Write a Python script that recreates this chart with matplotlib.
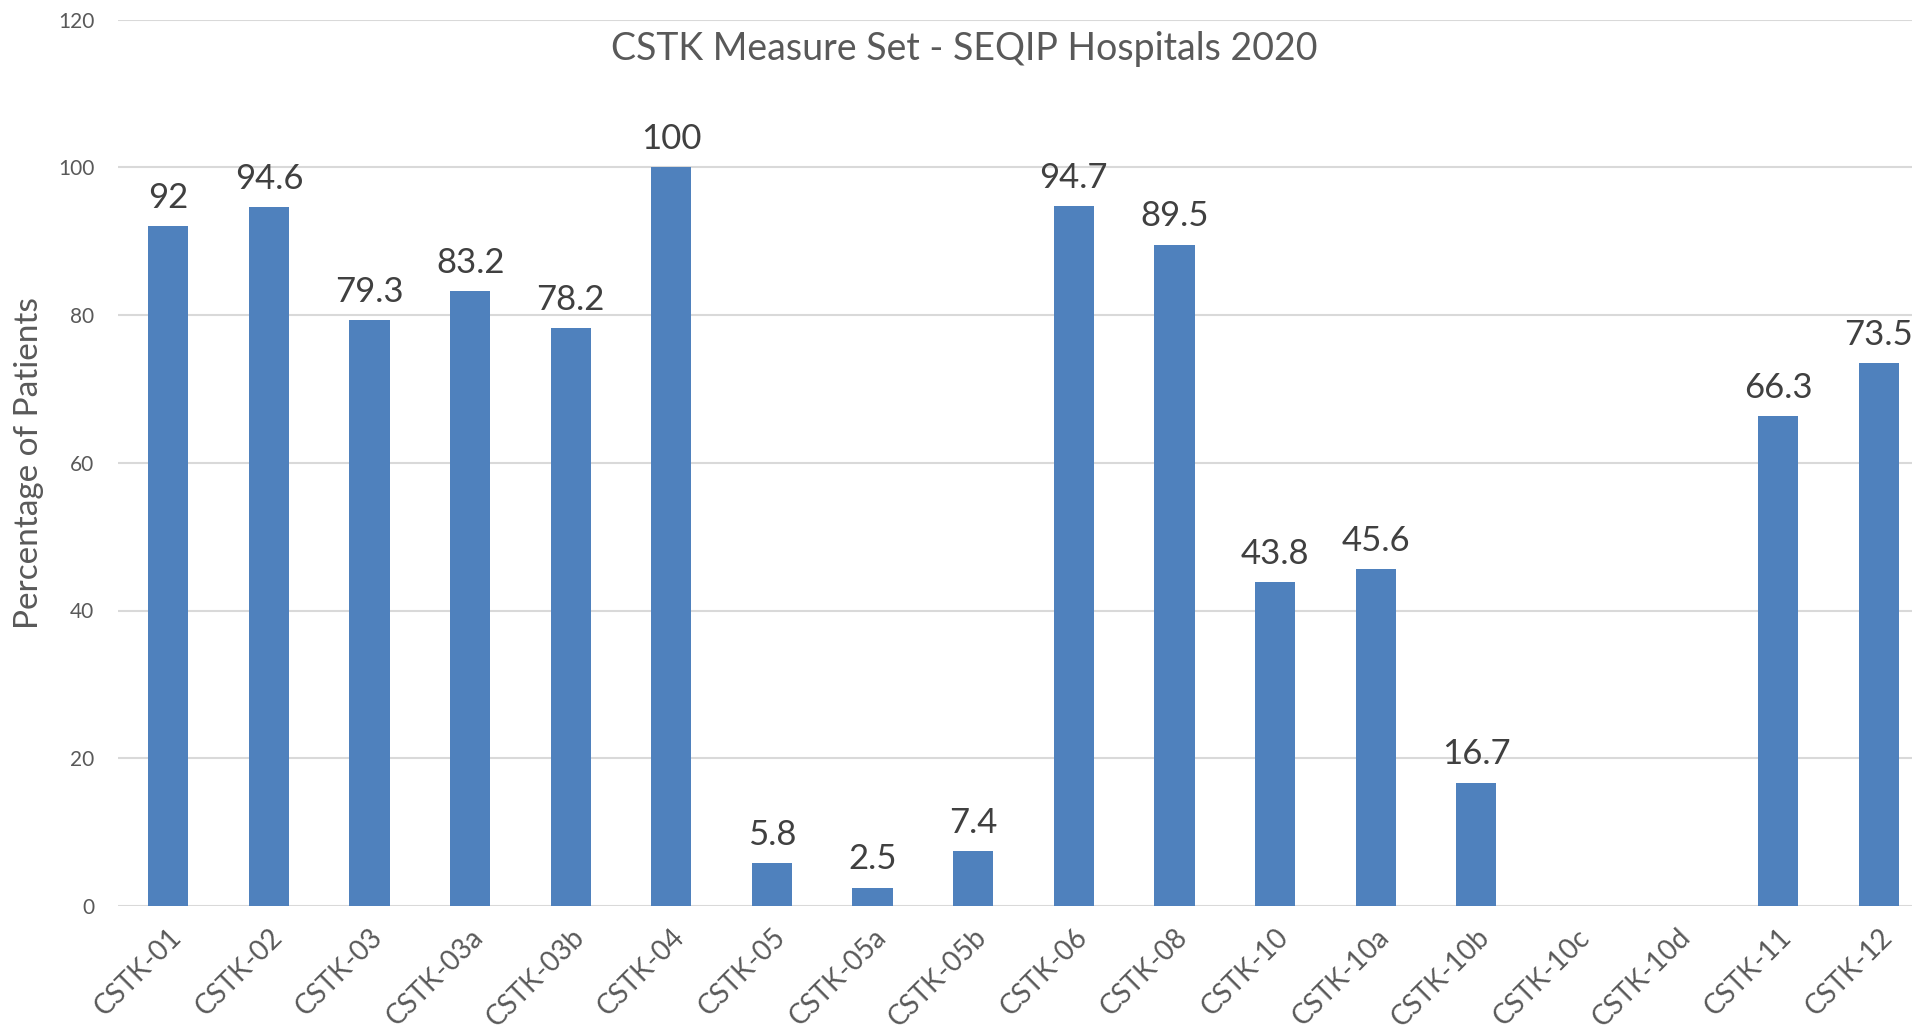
import numpy as np
import matplotlib
matplotlib.use("Agg")
from matplotlib import pyplot as plt

# chart data
measures = ["CSTK-01", "CSTK-02", "CSTK-03", "CSTK-03a", "CSTK-03b", "CSTK-04",
            "CSTK-05", "CSTK-05a", "CSTK-05b", "CSTK-06", "CSTK-08", "CSTK-10",
            "CSTK-10a", "CSTK-10b", "CSTK-10c", "CSTK-10d", "CSTK-11", "CSTK-12"]
percent = [92, 94.6, 79.3, 83.2, 78.2, 100, 5.8, 2.5, 7.4, 94.7, 89.5, 43.8,
           45.6, 16.7, None, None, 66.3, 73.5]
yticks = [0, 20, 40, 60, 80, 100, 120]

plt.rcParams['font.family'] = ['Lato', 'DejaVu Sans']

fig = plt.figure(figsize=(19.12, 10.31), dpi=100)
# the original chart is cropped slightly on the right, so the axes runs past the edge
ax = fig.add_axes([118/1912, 1 - 906/1031, 1811/1912, (906 - 19.5)/1031])

x = np.arange(len(measures))
heights = [v if v is not None else 0 for v in percent]
bars = ax.bar(x, heights, width=0.4, color="#4F81BD", zorder=3)

for xi, v in zip(x, percent):
    if v is None:
        continue
    ax.annotate(f"{v:g}", (xi, v), xytext=(0, 9), textcoords="offset points",
                ha="center", va="bottom", fontsize=25, color="#404040")

ax.set_xlim(-0.5, len(measures) - 0.5)
ax.set_ylim(0, 120)
ax.set_yticks(yticks)
ax.tick_params(axis="y", length=0, pad=17, labelsize=15, labelcolor="#595959")
ax.tick_params(axis="x", length=0, pad=13)
ax.set_xticks(x)
ax.set_xticklabels(measures, rotation=45, ha="right", rotation_mode="anchor",
                   fontsize=20, color="#595959")
ax.grid(axis="y", color="#D9D9D9", linewidth=1.5, zorder=0)
for s in ax.spines.values():
    s.set_visible(False)

ax.set_ylabel("Percentage of Patients", fontsize=24, color="#595959")
ax.yaxis.set_label_coords(-0.041, 0.5)

fig.text(0.5045, 0.952, "CSTK Measure Set - SEQIP Hospitals 2020", ha="center",
         va="center", fontsize=27, color="#595959")

fig.savefig("out.png", dpi=100)
